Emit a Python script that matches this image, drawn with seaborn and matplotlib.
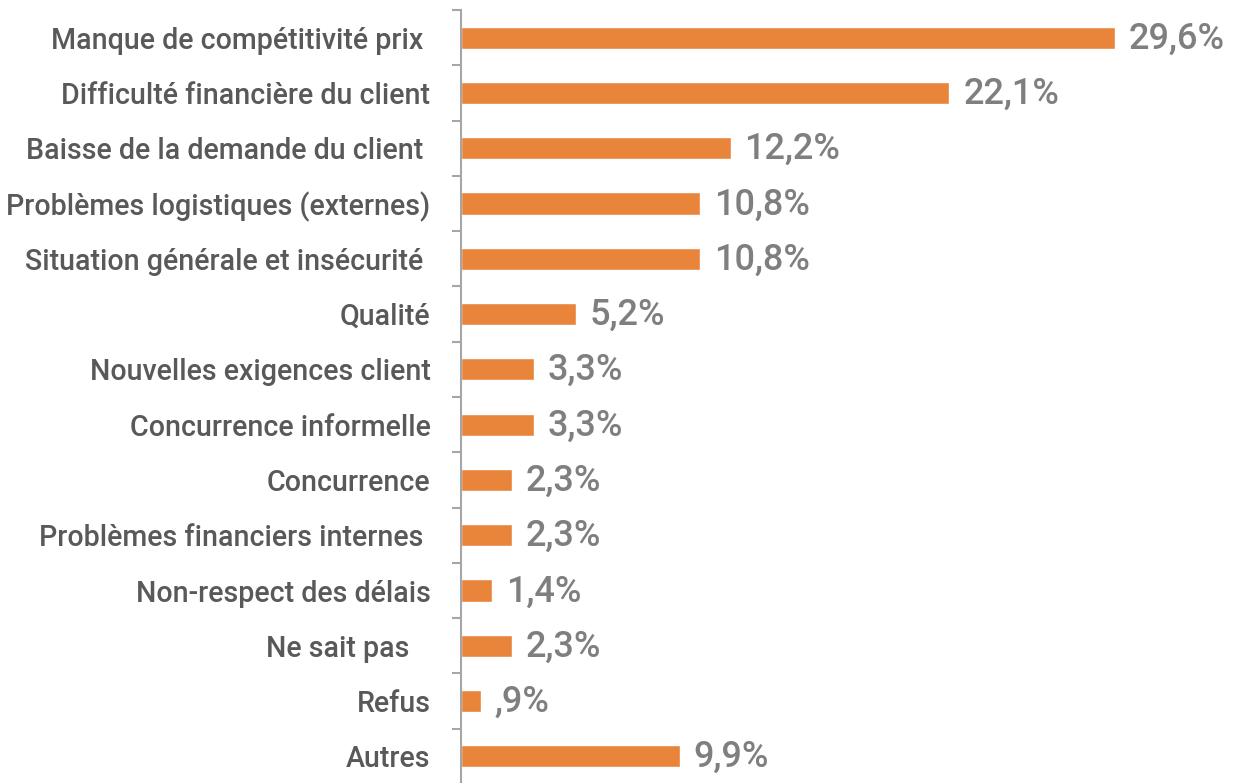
import matplotlib
matplotlib.use("Agg")
import matplotlib.pyplot as plt
import seaborn as sns
import pandas as pd
import numpy as np
from matplotlib.ticker import FixedLocator

categories = [
    "Manque de compétitivité prix ",
    "Difficulté financière du client",
    "Baisse de la demande du client ",
    "Problèmes logistiques (externes)",
    "Situation générale et insécurité ",
    "Qualité",
    "Nouvelles exigences client",
    "Concurrence informelle",
    "Concurrence",
    "Problèmes financiers internes ",
    "Non-respect des délais",
    "Ne sait pas   ",
    "Refus",
    "Autres",
]
values = [29.6, 22.1, 12.2, 10.8, 10.8, 5.2, 3.3, 3.3, 2.3, 2.3, 1.4, 2.3, 0.9, 9.9]
value_labels = ["29,6%", "22,1%", "12,2%", "10,8%", "10,8%", "5,2%", "3,3%", "3,3%",
                "2,3%", "2,3%", "1,4%", "2,3%", ",9%", "9,9%"]

sns.set_theme(style="white")
plt.rcParams['font.family'] = ['Roboto', 'DejaVu Sans']

df = pd.DataFrame({"cat": categories, "val": values})

fig = plt.figure(figsize=(12.4, 7.83), dpi=100)
W, H = 1240, 783
left_px, right_px, top_px, bot_px = 461, 1235, 10, 784
ax = fig.add_axes([left_px / W, 1 - bot_px / H, (right_px - left_px) / W, (bot_px - top_px) / H])

bar_color = "#E9853B"
sns.barplot(data=df, x="val", y="cat", orient="h", color=bar_color, width=0.4,
            saturation=1, ax=ax)

px_per_unit = 22.1
ax.set_xlim(0, (right_px - left_px) / px_per_unit)
ax.set_ylim(len(categories) - 0.5, -0.5)

for i, (v, lab) in enumerate(zip(values, value_labels)):
    ax.annotate(lab, xy=(v, i), xytext=(10, -1), textcoords="offset points",
                ha="left", va="center", fontsize=26, color="#7F7F7F",
                fontweight="medium")

for s in ["top", "right", "bottom"]:
    ax.spines[s].set_visible(False)
ax.spines["left"].set_color("#A6A6A6")
ax.spines["left"].set_linewidth(1.5)

ax.set_xlabel("")
ax.set_ylabel("")
ax.set_xticks([])
ax.tick_params(axis="y", which="major", length=0, pad=22, labelsize=20.6,
               labelcolor="#595959")
for t in ax.get_yticklabels():
    t.set_fontweight("medium")
ax.yaxis.set_minor_locator(FixedLocator(np.arange(-0.5, len(categories), 1.0)))
ax.tick_params(axis="y", which="minor", left=True, length=6.5, width=1.5, color="#A6A6A6")

fig.savefig("out.png", dpi=100)
